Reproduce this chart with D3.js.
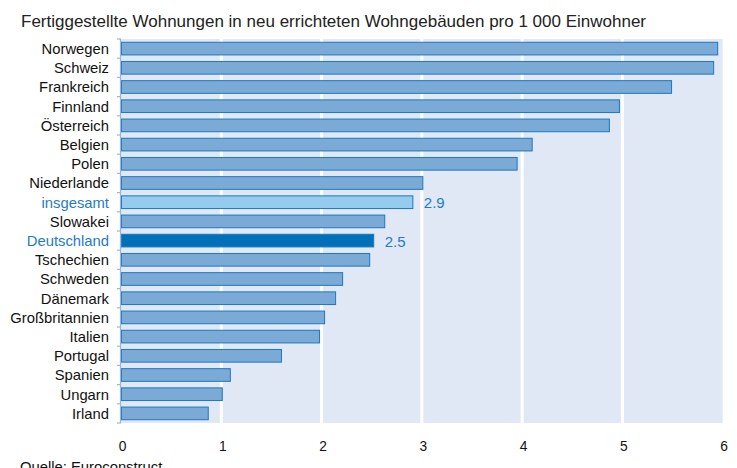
<!DOCTYPE html>
<html><head><meta charset="utf-8">
<script src="https://cdn.jsdelivr.net/npm/d3@7"></script>
<style>body{margin:0;background:#fff}svg{display:block}text{font-family:"Liberation Sans",Arial,sans-serif}</style>
</head><body><svg id="c" width="737" height="468"></svg>
<script>
const categories = ["Norwegen","Schweiz","Frankreich","Finnland","Österreich","Belgien","Polen","Niederlande","insgesamt","Slowakei","Deutschland","Tschechien","Schweden","Dänemark","Großbritannien","Italien","Portugal","Spanien","Ungarn","Irland"];
const values = [5.95,5.91,5.49,4.97,4.87,4.1,3.95,3.01,2.91,2.63,2.52,2.48,2.21,2.14,2.03,1.98,1.6,1.09,1.01,0.87];
const highlighted = ["insgesamt","Deutschland"];
const valueLabels = {"insgesamt":"2.9","Deutschland":"2.5"};
const xTicks = [0,1,2,3,4,5,6];
const title = "Fertiggestellte Wohnungen in neu errichteten Wohngebäuden pro 1 000 Einwohner";
const source = "Quelle: Euroconstruct";

const svg = d3.select("#c");
const pL = 121, pR = 722.7, pT = 39, pB = 423;
const x = d3.scaleLinear().domain([0,6]).range([pL,pR]);
const y = d3.scaleBand().domain(categories).range([pT,pB]).paddingInner(0.34).paddingOuter(0.17);

svg.append("text").attr("x",21).attr("y",27.3).attr("font-size",17).attr("fill","#222").text(title);

svg.append("rect").attr("x",pL).attr("y",pT).attr("width",pR-pL).attr("height",pB-pT).attr("fill","#E1E8F5");
svg.selectAll(".grid").data(xTicks.slice(1,-1)).join("line")
  .attr("x1",d=>x(d)).attr("x2",d=>x(d)).attr("y1",pT).attr("y2",pB)
  .attr("stroke","#fff").attr("stroke-width",3);

const fill = d => d==="Deutschland" ? "#0070B8" : d==="insgesamt" ? "#94CBEE" : "#7AAAD5";
svg.selectAll(".bar").data(categories).join("rect")
  .attr("x",x(0)+0.5).attr("y",d=>y(d))
  .attr("width",(d,i)=>x(values[i])-x(0)-0.5).attr("height",y.bandwidth())
  .attr("fill",fill).attr("stroke","#1B78C0").attr("stroke-width",1);

const step = y.step();
svg.append("line").attr("x1",pL-0.5).attr("x2",pL-0.5).attr("y1",pT).attr("y2",pB).attr("stroke","#9DB5DD").attr("stroke-width",1.2);
svg.selectAll(".tk").data(d3.range(categories.length+1)).join("line")
  .attr("x1",pL-4).attr("x2",pL).attr("y1",i=>pT+i*step).attr("y2",i=>pT+i*step)
  .attr("stroke","#9DB5DD").attr("stroke-width",1.2);

svg.selectAll(".lab").data(categories).join("text")
  .attr("x",109).attr("y",d=>y(d)+y.bandwidth()/2).attr("dy","0.36em")
  .attr("text-anchor","end").attr("font-size",14.8)
  .attr("fill",d=>highlighted.includes(d)?"#1E7CC5":"#111").text(d=>d);

svg.selectAll(".vl").data(categories.filter(d=>valueLabels[d])).join("text")
  .attr("x",d=>x(values[categories.indexOf(d)])+11).attr("y",d=>y(d)+y.bandwidth()/2).attr("dy","0.4em")
  .attr("font-size",15).attr("fill","#1E7CC5").text(d=>valueLabels[d]);

svg.selectAll(".xt").data(xTicks).join("text")
  .attr("x",d=>x(d)+1.5).attr("y",450.5).attr("text-anchor","middle").attr("font-size",13.8).attr("fill","#111").text(d=>d);

svg.append("text").attr("x",20).attr("y",471.5).attr("font-size",14.8).attr("fill","#111").text(source);
</script></body></html>
